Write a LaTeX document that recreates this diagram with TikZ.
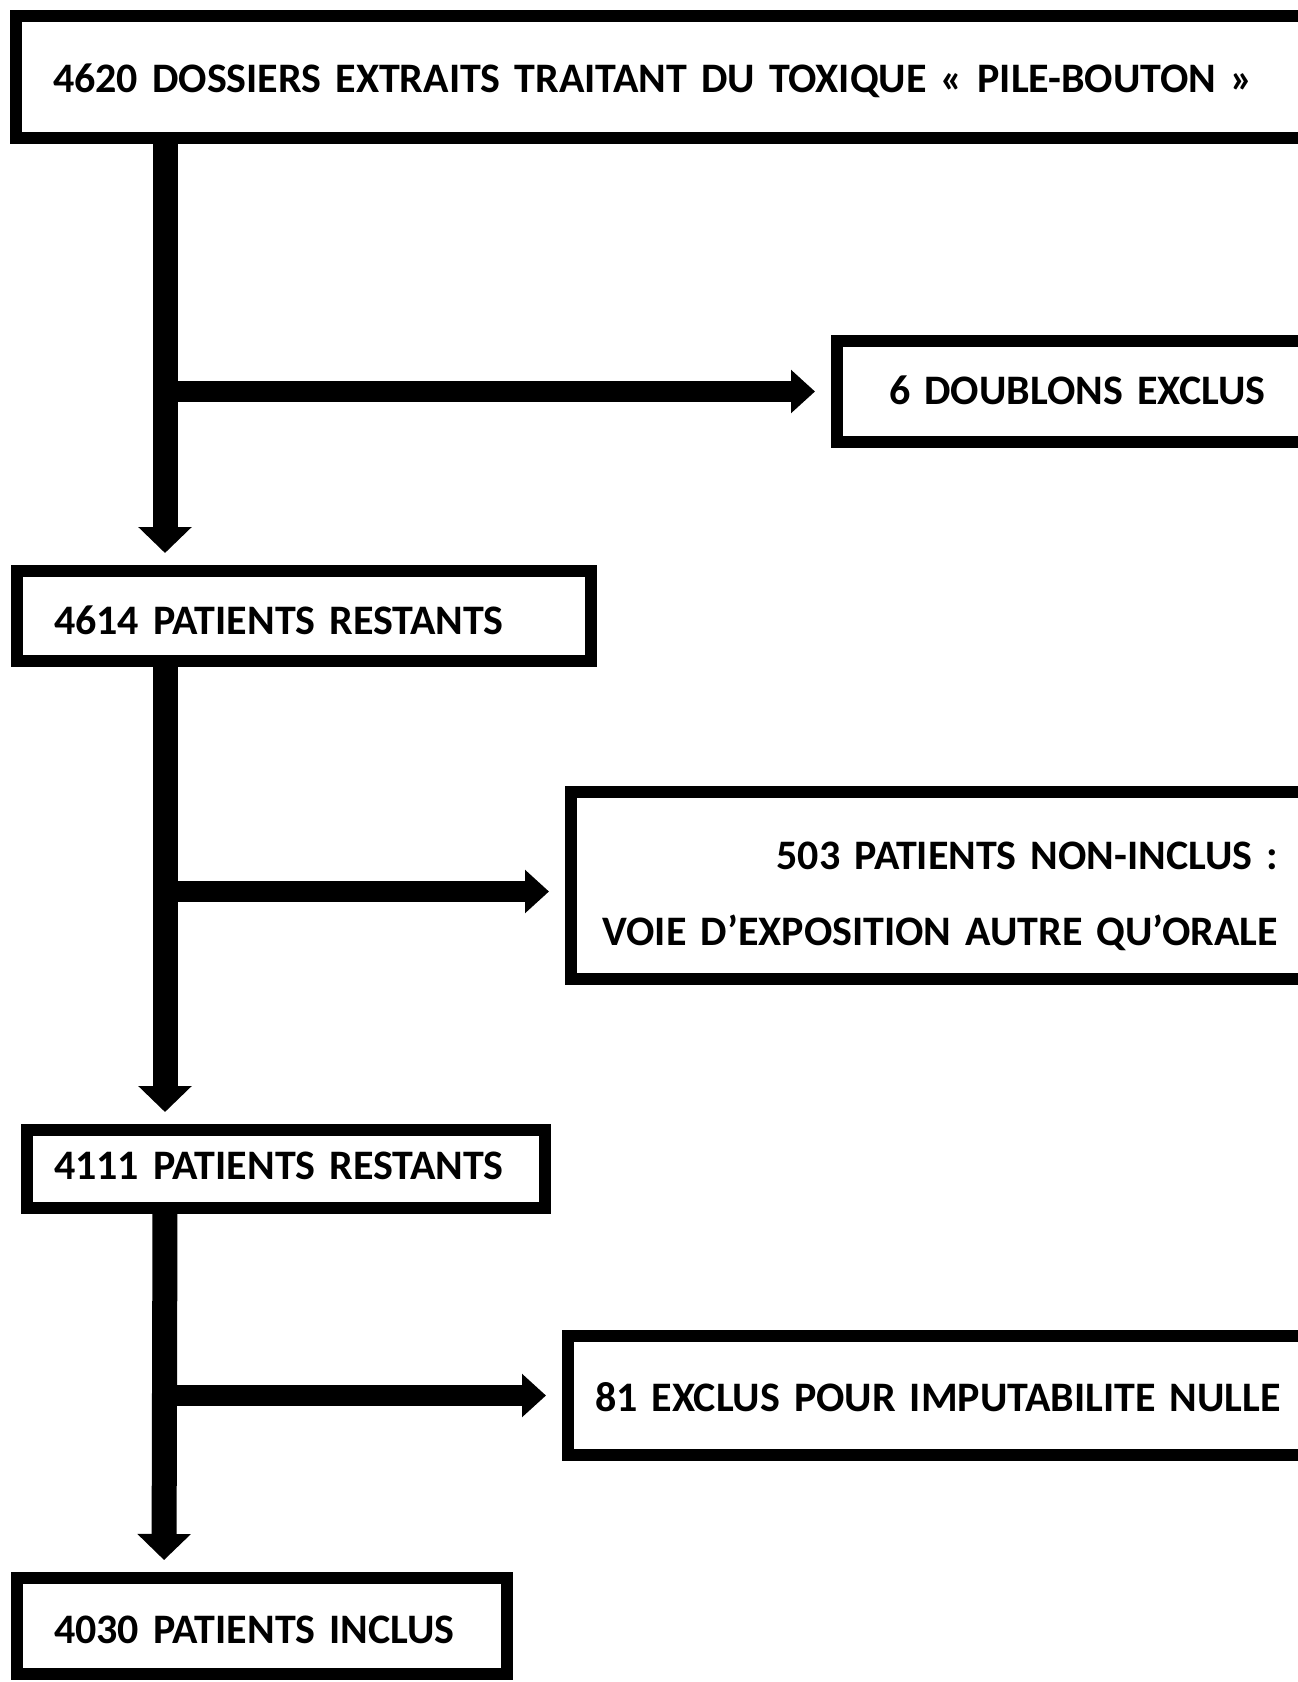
\documentclass[tikz,border=0pt]{standalone}
\usepackage{fontspec}
\setmainfont{Carlito}
\usetikzlibrary{arrows.meta}

\tikzset{
  flowbox/.style={draw, line width=12pt, outer sep=0pt, anchor=north west,
    text height=26.5pt, text depth=0pt,
    font=\fontsize{42pt}{76pt}\selectfont\bfseries},
  trunk/.style={line width=25pt, -{Triangle[width=52pt,length=26pt]}, shorten >=18pt},
  branch/.style={line width=21pt, -{Triangle[width=42pt,length=24pt]}, shorten >=22pt}
}

\begin{document}
\begin{tikzpicture}[x=1pt, y=-1pt]
\useasboundingbox (0,0) rectangle (1298,1682);
\clip (0,0) rectangle (1298,1682);
% Boxes
  \node[flowbox, inner xsep=37pt, text width=1300pt, align=left, minimum height=122pt,
    text height=30pt]
    (dossiers) at (16,16) {4620 DOSSIERS EXTRAITS TRAITANT DU TOXIQUE « PILE-BOUTON »};
  \node[flowbox, inner xsep=52pt, text width=400pt, align=left, minimum height=101pt]
    (doublons) at (837,341) {6 DOUBLONS EXCLUS};
  \node[flowbox, inner xsep=37pt, text width=500pt, align=left, minimum height=90pt,
    text height=37pt]
    (restants1) at (17,571) {4614 PATIENTS RESTANTS};
  \node[flowbox, inner xsep=28pt, text width=679pt, align=right, minimum height=187pt,
    text depth=58.5pt]
    (noninclus) at (571,792) {503 PATIENTS NON-INCLUS :\\VOIE D’EXPOSITION AUTRE QU’ORALE};
  \node[flowbox, inner xsep=27pt, text width=464pt, align=left, minimum height=78pt,
    text height=21pt]
    (restants2) at (27,1130) {4111 PATIENTS RESTANTS};
  \node[flowbox, inner xsep=27pt, text width=800pt, align=left, minimum height=119pt,
    text height=31pt]
    (imputab) at (568,1336) {81 EXCLUS POUR IMPUTABILITE NULLE};
  \node[flowbox, inner xsep=37pt, text width=416pt, align=left, minimum height=96pt,
    text height=35pt]
    (inclus) at (17,1578) {4030 PATIENTS INCLUS};
% Arrows
  \draw[trunk] ([xshift=149pt]dossiers.south west) coordinate (t1)
    -- ([xshift=148pt]restants1.north west);
  \draw[branch] (t1 |- doublons.west) -- (doublons.west);
  \draw[trunk] ([xshift=148pt]restants1.south west) coordinate (t2)
    -- ([xshift=138pt]restants2.north west);
  \draw[branch] ([yshift=-6pt]t2 |- noninclus.west) -- ([yshift=-6pt]noninclus.west);
  \draw[trunk] ([xshift=138pt]restants2.south west) coordinate (t3)
    -- ([xshift=147pt]inclus.north west);
  \draw[branch] (t3 |- imputab.west) -- (imputab.west);

\end{tikzpicture}
\end{document}
